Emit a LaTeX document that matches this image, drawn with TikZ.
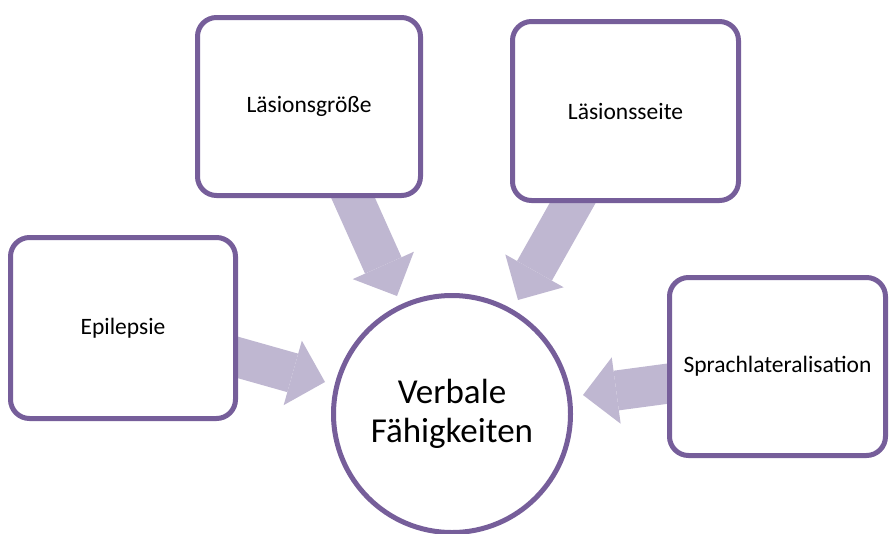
\documentclass[tikz,border=0pt]{standalone}
\usepackage{fontspec}
\setmainfont{Carlito}
\usetikzlibrary{arrows.meta,calc}
\definecolor{boxline}{RGB}{118,94,154}
\definecolor{arrowfill}{RGB}{191,183,209}
\pgfdeclarelayer{bg}
\pgfsetlayers{bg,main}
\tikzset{
  factorbox/.style={draw=boxline, line width=5pt, fill=white, rounded corners=19pt,
    inner sep=0pt, align=center, font=\fontsize{23.5}{28}\selectfont},
  targetcircle/.style={draw=boxline, line width=5pt, fill=white, circle,
    minimum size=237pt, inner sep=0pt, align=center, font=\fontsize{35}{39}\selectfont},
  bigarrow/.style={draw=arrowfill, line width=40pt,
    -{Triangle[length=33.5pt,width=67pt,line width=0pt]}}
}
\begin{document}
\begin{tikzpicture}[x=1pt,y=-1pt]
\useasboundingbox (0,0) rectangle (889,533);
\node[factorbox, minimum width=223pt, minimum height=178pt] (g) at (309,106.5) {Läsionsgröße};
\node[factorbox, minimum width=226pt, minimum height=179pt] (s) at (625.5,111) {Läsionsseite};
\node[factorbox, minimum width=225pt, minimum height=181pt] (e) at (123,328) {Epilepsie};
\node[factorbox, minimum width=216pt, minimum height=178pt] (l) at (777.5,366.5) {Sprachlateralisation};
\node[targetcircle] (c) at (452,414) {Verbale\\Fähigkeiten};
\begin{pgfonlayer}{bg}
\draw[bigarrow] ($(g.south)+(36.5,-17)$) -- ($(c.center)+(-55,-118)$);
\draw[bigarrow] ($(s.south)+(-44.4,-15)$) -- ($(c.center)+(66,-114)$);
\draw[bigarrow] ($(e.east)+(-16.8,24.7)$) -- ($(c.center)+(-127,-32)$);
\draw[bigarrow] ($(l.west)+(17.3,14.9)$) -- ($(c.center)+(131,-19)$);
\end{pgfonlayer}
\end{tikzpicture}
\end{document}
